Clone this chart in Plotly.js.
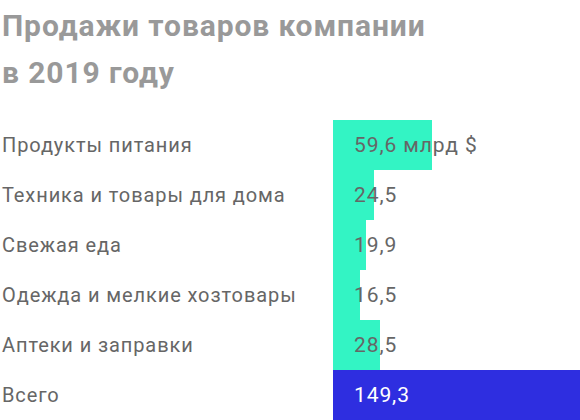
<!DOCTYPE html>
<html>
<head>
<meta charset="utf-8">
<script src="https://cdn.plot.ly/plotly-3.0.1.min.js"></script>
<style>
  html, body { margin: 0; padding: 0; background: #fff; }
  #chart { width: 580px; height: 420px; }
  /* the original face is a bit wider than Roboto */
  #chart .annotation-text { letter-spacing: 0.9px; }
</style>
</head>
<body>
<div id="chart"></div>
<script>
const categories = [
  "Продукты питания",
  "Техника и товары для дома",
  "Свежая еда",
  "Одежда и мелкие хозтовары",
  "Аптеки и заправки",
  "Всего"
];
const sales = [59.6, 24.5, 19.9, 16.5, 28.5, 149.3];
const unit = " млрд $";
const titleLines = ["Продажи товаров компании", "в 2019 году"];

const TEAL = "#33f4c4";
const BLUE = "#2e2ee0";
const FONT = "Roboto, 'Liberation Sans', sans-serif";

const W = 580, H = 420;
const L = 333, T = 120;
const plotW = W - L, plotH = H - T;
const paperX = px => (px - L) / plotW;
const paperY = py => (H - py) / plotH;

const last = categories.length - 1;
const fmt = v => v.toFixed(1).replace(".", ",");

const annotations = [];

// category names at the far left
categories.forEach(c => {
  annotations.push({
    xref: "paper", yref: "y", x: paperX(0), y: c,
    xanchor: "left", yanchor: "middle", align: "left", showarrow: false,
    text: c, font: { family: FONT, size: 20, color: "#666" }
  });
});

// values, starting a bit inside each bar
categories.forEach((c, i) => {
  annotations.push({
    xref: "x", yref: "y", x: 0, y: c, xshift: 19,
    xanchor: "left", yanchor: "middle", align: "left", showarrow: false,
    text: fmt(sales[i]) + (i === 0 ? unit : ""),
    font: { family: FONT, size: 21, color: i === last ? "#fff" : "#666" }
  });
});

// two-line title
[25.5, 72.5].forEach((py, i) => {
  annotations.push({
    xref: "paper", yref: "paper", x: paperX(0), y: paperY(py),
    xanchor: "left", yanchor: "middle", align: "left", showarrow: false,
    text: "<b>" + titleLines[i] + "</b>",
    font: { family: FONT, size: 30, color: "#999" }
  });
});

Plotly.newPlot("chart", [{
  type: "bar",
  orientation: "h",
  y: categories,
  x: sales,
  marker: { color: sales.map((v, i) => i === last ? BLUE : TEAL) },
  hoverinfo: "none"
}], {
  width: W, height: H,
  margin: { l: L, r: 0, t: T, b: 0, pad: 0 },
  paper_bgcolor: "#fff",
  plot_bgcolor: "#fff",
  bargap: 0,
  showlegend: false,
  xaxis: {
    range: [0, sales[last]], showgrid: false, zeroline: false,
    showticklabels: false, ticks: "", fixedrange: true
  },
  yaxis: {
    autorange: "reversed", showgrid: false, zeroline: false,
    showticklabels: false, ticks: "", fixedrange: true
  },
  annotations: annotations
}, { displayModeBar: false, staticPlot: true });
</script>
</body>
</html>
